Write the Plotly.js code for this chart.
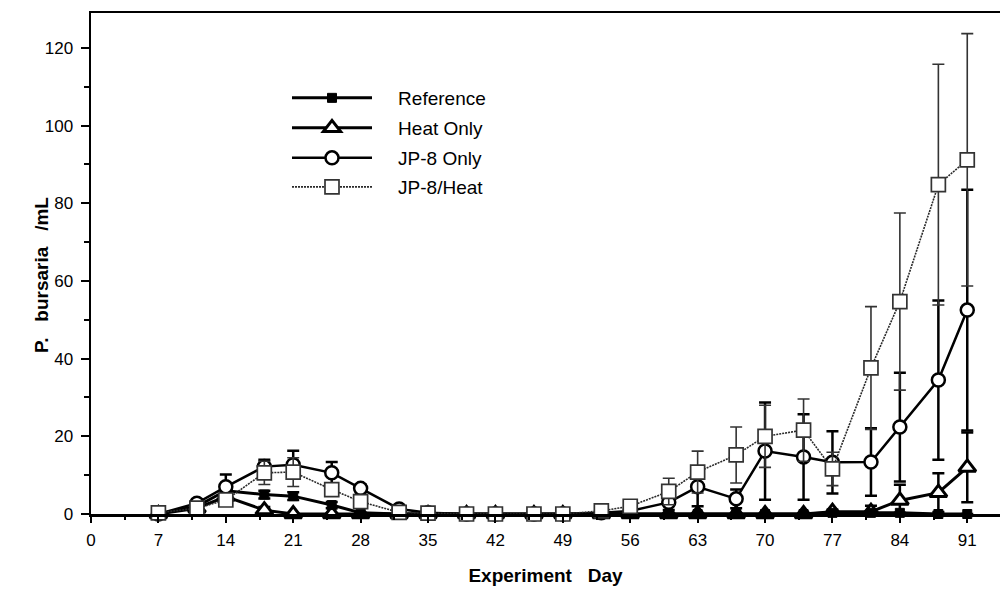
<!DOCTYPE html>
<html>
<head>
<meta charset="utf-8">
<script src="https://cdn.plot.ly/plotly-3.0.1.min.js"></script>
<style>html,body{margin:0;padding:0;background:#fff;}#chart{width:1000px;height:589px;}</style>
</head>
<body>
<div id="chart"></div>
<script>
// Experiment days (x)
const days = [7,11,14,18,21,25,28,32,35,39,42,46,49,53,56,60,63,67,70,74,77,81,84,88,91];
// P. bursaria /mL
const reference   = [0,2,6,5,4.6,2.3,0.3,0,0,0,0,0,0,0,0,0,0,0,0,0,0.3,0.3,0.3,0,0];
const referenceErr= [0,0.5,1,1,1,0.8,0,0,0,0,0,0,0,0,0,0,0,0,0,0,0,0,0,0,0];
const heatOnly    = [0,1.5,4.5,1,0,0,0,0,0,0,0,0,0,0,0,0,0,0,0,0,0.6,0.6,3.5,5.5,12];
const heatOnlyErr = [0,0.5,1,0.8,0,0,0,0,0,0,0,0,0,0,0,0,0,0,0,0,0.5,1.5,4,5,9];
const jp8Only     = [0,2.8,7,12.2,12.7,10.6,6.6,1.3,0.3,0,0,0,0,0.3,0.8,3,7,3.9,16.2,14.7,13.3,13.4,22.4,34.5,52.5];
const jp8OnlyErr  = [0.5,1,3.2,1.8,3.6,2.8,1,0.5,0.3,0,0,0,0,0.3,0.5,2,5,2.4,12.5,11,8,8.7,14,20.5,31];
const jp8Heat     = [0.3,1.5,3.6,10.6,10.8,6.3,3.2,0.4,0.2,0,0,0,0,0.8,2,5.8,10.8,15.2,20,21.6,11.6,37.6,54.7,84.8,91.2];
const jp8HeatErr  = [0.5,0.8,1.2,3,3.7,1.5,1,0.3,0,0,0,0,0,0.3,0.8,3.4,5.4,7.2,8,8,4.3,15.8,22.8,31,32.5];
// axis ticks
const xTicks = [0,7,14,21,28,35,42,49,56,63,70,77,84,91];
const yTicks = [0,20,40,60,80,100,120];
// texts
const seriesNames = ['Reference', 'Heat Only', 'JP-8 Only', 'JP-8/Heat'];
const xTitle = 'Experiment\u00a0\u00a0 Day';
const yTitle = 'P.\u00a0\u00a0 bursaria\u00a0\u00a0 /mL';

const FONT = 'Liberation Sans, Arial, Helvetica, sans-serif';
const PAD = '\u00a0\u00a0\u00a0\u00a0';

const traces = [
  {
    name: PAD + seriesNames[1], x: days, y: heatOnly, type: 'scatter', mode: 'lines+markers',
    legend: 'legend2', cliponaxis: false,
    line: {color: '#000', width: 3},
    marker: {symbol: 'triangle-up', size: 15, color: '#fff', line: {color: '#000', width: 3}},
    error_y: {type: 'data', array: heatOnlyErr, visible: true, color: '#000', thickness: 2.5, width: 6}
  },
  {
    name: PAD + seriesNames[0], x: days, y: reference, type: 'scatter', mode: 'lines+markers',
    legend: 'legend', cliponaxis: false,
    line: {color: '#000', width: 3},
    marker: {symbol: 'square', size: 9, color: '#000', line: {color: '#000', width: 1}},
    error_y: {type: 'data', array: referenceErr, visible: true, color: '#000', thickness: 2.5, width: 6}
  },
  {
    name: PAD + seriesNames[2], x: days, y: jp8Only, type: 'scatter', mode: 'lines+markers',
    legend: 'legend3', cliponaxis: false,
    line: {color: '#000', width: 2.5},
    marker: {symbol: 'circle', size: 13, color: '#fff', line: {color: '#000', width: 2.5}},
    error_y: {type: 'data', array: jp8OnlyErr, visible: true, color: '#000', thickness: 2.5, width: 6}
  },
  {
    name: PAD + seriesNames[3], x: days, y: jp8Heat, type: 'scatter', mode: 'lines+markers',
    legend: 'legend4', cliponaxis: false,
    line: {color: '#2a2a2a', width: 1.6, dash: '2px,1px'},
    marker: {symbol: 'square', size: 14, color: '#fff', line: {color: '#333', width: 1.7}},
    error_y: {type: 'data', array: jp8HeatErr, visible: true, color: '#333', thickness: 1.6, width: 6}
  }
];

function leg(yPix) {
  return {
    x: (287 - 91) / 909, xanchor: 'left',
    y: (514 - yPix) / 501, yanchor: 'middle',
    bgcolor: 'rgba(0,0,0,0)', borderwidth: 0,
    itemwidth: 80,
    font: {family: FONT, size: 19, color: '#000'}
  };
}

const layout = {
  width: 1000, height: 589,
  margin: {l: 91, r: 0, t: 13, b: 75},
  paper_bgcolor: '#fff', plot_bgcolor: '#fff',
  showlegend: true,
  legend: leg(98),
  legend2: leg(128),
  legend3: leg(158),
  legend4: leg(187),
  xaxis: {
    range: [0, 94.4],
    tickmode: 'array', tickvals: xTicks, ticktext: xTicks.map(String),
    ticks: 'outside', ticklen: 6, tickwidth: 2, tickcolor: '#000',
    ticklabelposition: 'outside',
    ticklabelstandoff: 3,
    minor: {dtick: 3.5, tick0: 0, ticks: 'outside', ticklen: 3, tickwidth: 2, tickcolor: '#000'},
    showline: true, linecolor: '#000', linewidth: 2.5, mirror: true,
    showgrid: false, zeroline: false,
    tickfont: {family: FONT, size: 17, color: '#000'},
    title: {text: xTitle, font: {family: FONT, size: 19, color: '#000', weight: 'bold'}, standoff: 20}
  },
  yaxis: {
    range: [0, 129],
    tickmode: 'array', tickvals: yTicks, ticktext: yTicks.map(String),
    ticks: 'outside', ticklen: 8, tickwidth: 2, tickcolor: '#000',
    ticklabelposition: 'outside',
    ticklabelstandoff: 4,
    minor: {dtick: 10, tick0: 0, ticks: 'outside', ticklen: 5, tickwidth: 2, tickcolor: '#000'},
    showline: true, linecolor: '#000', linewidth: 2.5,
    showgrid: false, zeroline: false,
    tickfont: {family: FONT, size: 17, color: '#000'}
  },
  annotations: [{
    text: yTitle, textangle: -90,
    xref: 'paper', yref: 'paper',
    x: (41 - 91) / 909, y: (514 - 275) / 501,
    xanchor: 'center', yanchor: 'middle', showarrow: false,
    font: {family: FONT, size: 19, color: '#000', weight: 'bold'}
  }]
};

Plotly.newPlot('chart', traces, layout, {displayModeBar: false, staticPlot: true});
</script>
</body>
</html>
